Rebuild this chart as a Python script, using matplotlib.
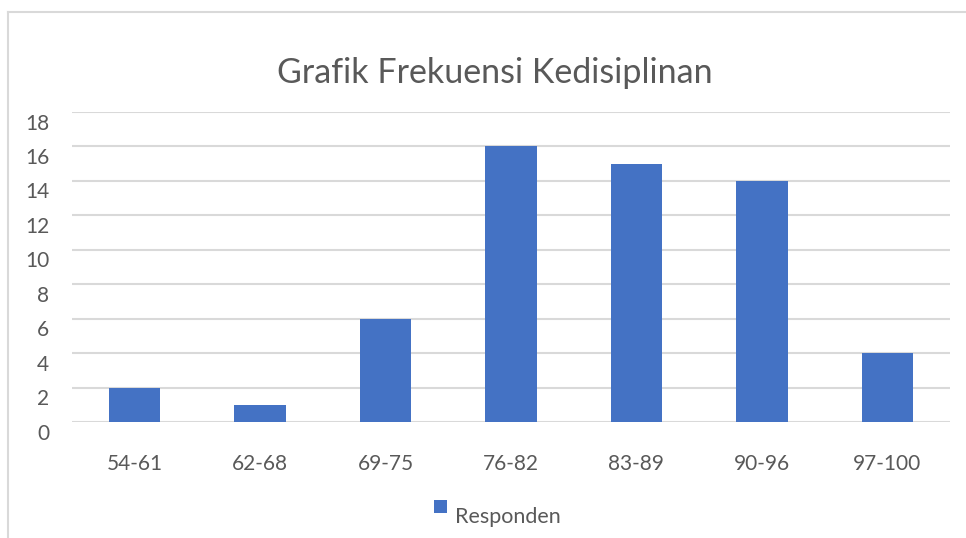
import matplotlib
matplotlib.use("Agg")
import matplotlib.pyplot as plt
import matplotlib.transforms as mtransforms
from matplotlib.patches import Rectangle

categories = ["54-61", "62-68", "69-75", "76-82", "83-89", "90-96", "97-100"]
responden = [2, 1, 6, 16, 15, 14, 4]
yticks = [0, 2, 4, 6, 8, 10, 12, 14, 16, 18]

bar_color = "#4472C4"
text_color = "#595959"
grid_color = "#D9D9D9"

plt.rcParams["font.family"] = ["Lato", "DejaVu Sans"]

fig = plt.figure(figsize=(9.66, 5.38), dpi=100)
W, H = 966, 538

# chart border (cropped on right and bottom, like the screenshot)
fig.add_artist(plt.Line2D([8 / W, 8 / W], [0, 1 - 12 / H], transform=fig.transFigure,
                          color=grid_color, lw=1.5))
fig.add_artist(plt.Line2D([8 / W, 1], [1 - 12 / H, 1 - 12 / H], transform=fig.transFigure,
                          color=grid_color, lw=1.5))

ax = fig.add_axes([72 / W, 1 - 422 / H, (950 - 72) / W, (422 - 112) / H])
x = range(len(categories))
bars = ax.bar(x, responden, width=0.41, color=bar_color, zorder=3, label="Responden")

ax.set_xlim(-0.5, len(categories) - 0.5)
ax.set_ylim(0, 18)
ax.set_yticks(yticks)
ax.set_xticks(list(x))
ax.set_xticklabels(categories)
ax.grid(axis="y", color=grid_color, lw=1.5, zorder=0)
ax.set_axisbelow(True)
for s in ax.spines.values():
    s.set_visible(False)
ax.tick_params(length=0, colors=text_color, labelsize=15)
ax.tick_params(axis="x", pad=23)
ax.tick_params(axis="y", pad=16.5)

# y labels sit a little below their gridlines, as in the Excel chart
shift = mtransforms.ScaledTranslation(0, -9.5 / 100, fig.dpi_scale_trans)
for lab in ax.get_yticklabels():
    lab.set_transform(lab.get_transform() + shift)

fig.text(495 / W, 1 - 73 / H, "Grafik Frekuensi Kedisiplinan", ha="center", va="center",
         fontsize=24.5, color=text_color)

# legend
fig.add_artist(Rectangle((434 / W, 1 - 513 / H), 13 / W, 13 / H, transform=fig.transFigure,
                         facecolor=bar_color, edgecolor="none"))
fig.text(455 / W, 1 - 517 / H, "Responden", ha="left", va="center", fontsize=15.5,
         color=text_color)

fig.savefig("out.png", dpi=100)
